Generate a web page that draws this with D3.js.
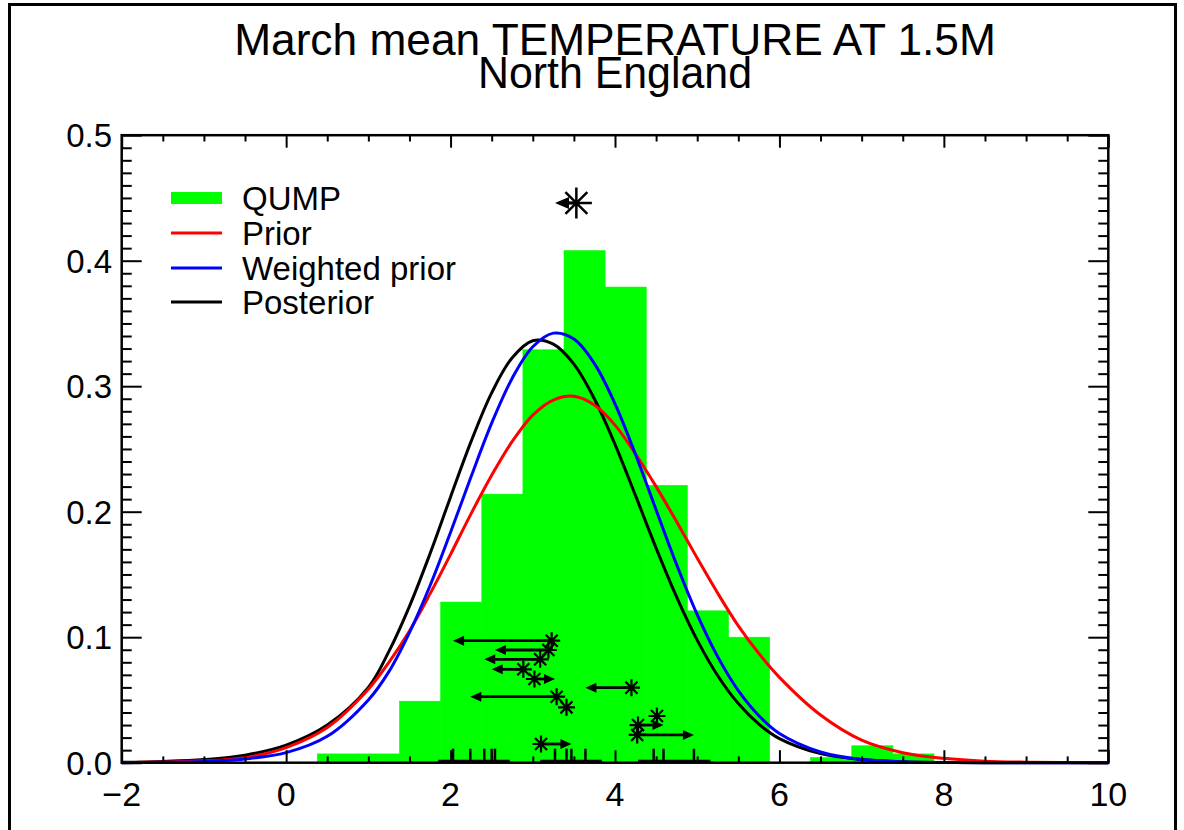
<!DOCTYPE html>
<html>
<head>
<meta charset="utf-8">
<script src="https://cdn.jsdelivr.net/npm/d3@7"></script>
<style>
  body { margin: 0; background: #fff; }
  text { font-family: "Liberation Sans", Arial, Helvetica, sans-serif; fill: #000; }
</style>
</head>
<body>
<script>
// titulo
const titleLines = ["March mean TEMPERATURE AT 1.5M", "North England"];

// histograma QUMP (bordes de clase y densidad)
const binEdges = [0.38, 0.88, 1.38, 1.88, 2.38, 2.88, 3.38, 3.88, 4.38, 4.88, 5.38, 5.88, 6.38, 6.88, 7.38, 7.88];
const qumpDensity = [0.007, 0.007, 0.049, 0.128, 0.214, 0.329, 0.408, 0.379, 0.221, 0.121, 0.100, 0, 0.004, 0.0135, 0.007];

// curvas
const curveX = [-2, -1.5, -1, -0.5, 0, 0.5,
  1, 1.25, 1.5, 1.75, 2, 2.25, 2.5, 2.75, 3, 3.25, 3.5, 3.75, 4, 4.25, 4.5, 4.75, 5, 5.25, 5.5, 5.75, 6,
  6.5, 7, 7.5, 8, 8.5, 9, 10];
const prior = [0, 0.0005, 0.0015, 0.004, 0.012, 0.028,
  0.0585, 0.080, 0.105, 0.1345, 0.166, 0.1985, 0.229, 0.256, 0.277, 0.289, 0.292, 0.285, 0.269, 0.246, 0.220, 0.192, 0.163, 0.135, 0.109, 0.087, 0.068,
  0.038, 0.018, 0.008, 0.0035, 0.0012, 0.0004, 0];
const weightedPrior = [0, 0.0003, 0.001, 0.003, 0.008, 0.021,
  0.050, 0.0726, 0.1037, 0.141, 0.1836, 0.228, 0.2706, 0.3064, 0.3314, 0.3423, 0.3376, 0.318, 0.286, 0.2456, 0.2014, 0.1577, 0.118, 0.0843, 0.0574, 0.0374, 0.0232,
  0.0085, 0.0025, 0.0008, 0.0002, 0, 0, 0];
const posterior = [0.0003, 0.001, 0.0025, 0.006, 0.014, 0.030,
  0.060, 0.0887, 0.1246, 0.1665, 0.2118, 0.256, 0.2947, 0.3227, 0.3362, 0.3335, 0.3176, 0.2898, 0.2537, 0.2128, 0.171, 0.132, 0.0977, 0.0693, 0.0471, 0.0307, 0.0192,
  0.0072, 0.0025, 0.0008, 0.0002, 0, 0, 0];

// asteriscos con flechas (valor del modelo -> valor corregido)
const starX   = [3.23, 3.19, 3.09, 2.885, 3.02, 4.20, 3.29, 3.41, 4.51, 4.28, 4.27, 3.10];
const arrowTo = [2.03, 2.54, 2.41, 2.50, 3.27, 3.64, 2.24, 3.41, 4.47, 4.59, 4.96, 3.47];
const starY   = [0.0972, 0.0898, 0.0824, 0.0744, 0.0667, 0.0598, 0.0526, 0.0441, 0.0372, 0.030, 0.0221, 0.0149];

// observacion (asterisco grande arriba)
const obsX = [3.53];
const obsTo = [3.27];
const obsY = [0.446];

// segmentos negros sobre la base
const spanStart = [1.85, 3.09, 4.28];
const spanEnd   = [2.72, 3.84, 5.16];

const xTickValues = [-2, 0, 2, 4, 6, 8, 10];
const yTickValues = [0, 0.1, 0.2, 0.3, 0.4, 0.5];
const yTickLabels = ["0.0", "0.1", "0.2", "0.3", "0.4", "0.5"];

const legendNames = ["QUMP", "Prior", "Weighted prior", "Posterior"];
const legendColors = ["#00ff00", "#ff0000", "#0000ff", "#000000"];

const width = 1184, height = 830;
const plotLeft = 121.7, plotRight = 1108.3, plotTop = 135.2, plotBottom = 762.7;

const svg = d3.select("body").append("svg")
  .attr("width", width)
  .attr("height", height);

svg.append("rect").attr("width", width).attr("height", height).attr("fill", "#fff");

// marco exterior
svg.append("rect")
  .attr("x", 9.5).attr("y", 4.5)
  .attr("width", 1166).attr("height", 860)
  .attr("fill", "none").attr("stroke", "#000").attr("stroke-width", 3);

const x = d3.scaleLinear().domain([-2, 10]).range([plotLeft, plotRight]);
const y = d3.scaleLinear().domain([0, 0.5]).range([plotBottom, plotTop]);

// ajustar ancho del texto
function stretchTo(sel, targetWidth) {
  sel.each(function () {
    const w = this.getComputedTextLength();
    const g = d3.select(this.parentNode);
    const t = g.attr("transform") || "";
    g.attr("transform", t + ` scale(${targetWidth / w},1)`);
  });
}

// titulo
const titleBase = [55, 88];
const titleWidth = [762, 274];
titleLines.forEach((s, i) => {
  const g = svg.append("g").attr("transform", `translate(${(plotLeft + plotRight) / 2},${titleBase[i]})`);
  const t = g.append("text").attr("text-anchor", "middle").attr("font-size", 45).text(s);
  stretchTo(t, titleWidth[i]);
});

// histograma
const bins = qumpDensity.map((v, i) => ({ x0: binEdges[i], x1: binEdges[i + 1], v }));
svg.selectAll(".bar")
  .data(bins.filter(d => d.v > 0))
  .enter()
  .append("rect")
  .attr("class", "bar")
  .attr("x", d => x(d.x0))
  .attr("y", d => y(d.v))
  .attr("width", d => x(d.x1) - x(d.x0))
  .attr("height", d => y(0) - y(d.v))
  .attr("fill", "#00ff00")
  .attr("stroke", "#00ff00")
  .attr("stroke-width", 0.6);

// curvas
const line = d3.line()
  .x(d => x(d[0]))
  .y(d => Math.min(y(d[1]), plotBottom))
  .curve(d3.curveCatmullRom.alpha(0.5));

[[posterior, "#000000"], [prior, "#ff0000"], [weightedPrior, "#0000ff"]].forEach(([vals, col]) => {
  svg.append("path")
    .datum(curveX.map((cx, i) => [cx, vals[i]]))
    .attr("d", line)
    .attr("fill", "none")
    .attr("stroke", col)
    .attr("stroke-width", 3);
});

// segmentos en la base
svg.selectAll(".span")
  .data(spanStart.map((s, i) => [s, spanEnd[i]]))
  .enter()
  .append("line")
  .attr("x1", d => x(d[0])).attr("x2", d => x(d[1]))
  .attr("y1", y(0) - 1.5).attr("y2", y(0) - 1.5)
  .attr("stroke", "#000").attr("stroke-width", 3);

// rug
svg.selectAll(".rug")
  .data(arrowTo)
  .enter()
  .append("line")
  .attr("x1", d => x(d)).attr("x2", d => x(d))
  .attr("y1", y(0)).attr("y2", y(0) - 14)
  .attr("stroke", "#000").attr("stroke-width", 2.5);

function asterisk(r) {
  const a = r * Math.SQRT1_2;
  return `M${-r},0L${r},0M0,${-r}L0,${r}M${-a},${-a}L${a},${a}M${-a},${a}L${a},${-a}`;
}

function arrow(x0, x1, yy, headLen, headHalf, sw) {
  const dir = Math.sign(x1 - x0);
  if (Math.abs(x1 - x0) < headLen * 0.8) return;
  svg.append("line")
    .attr("x1", x0).attr("x2", x1 - dir * headLen * 0.6)
    .attr("y1", yy).attr("y2", yy)
    .attr("stroke", "#000").attr("stroke-width", sw);
  svg.append("path")
    .attr("d", `M${x1},${yy}L${x1 - dir * headLen},${yy - headHalf}L${x1 - dir * headLen},${yy + headHalf}Z`)
    .attr("fill", "#000");
}

// flechas y asteriscos
starX.forEach((sx, i) => {
  arrow(x(sx), x(arrowTo[i]), y(starY[i]), 11, 5, 2.8);
});
svg.selectAll(".star")
  .data(starX.map((sx, i) => [sx, starY[i]]))
  .enter()
  .append("path")
  .attr("transform", d => `translate(${x(d[0])},${y(d[1])})`)
  .attr("d", asterisk(8.5))
  .attr("fill", "none")
  .attr("stroke", "#000")
  .attr("stroke-width", 2.2);

// observacion
obsX.forEach((ox, i) => {
  arrow(x(ox), x(obsTo[i]), y(obsY[i]), 14, 6, 3);
  svg.append("path")
    .attr("transform", `translate(${x(ox)},${y(obsY[i])})`)
    .attr("d", asterisk(15.5))
    .attr("fill", "none")
    .attr("stroke", "#000")
    .attr("stroke-width", 2.5);
});

// ejes: marcas mayores y menores hacia dentro
function tickSet(axisFn, scale, values, size, translate) {
  const g = svg.append("g")
    .attr("transform", translate)
    .call(axisFn(scale).tickValues(values).tickSize(size).tickFormat(""));
  g.select(".domain").remove();
  g.selectAll("line").attr("stroke", "#000").attr("stroke-width", 2);
}

const xMinor = d3.range(-4, 21).filter(i => i % 4 !== 0).map(i => i / 2);
const yMinor = d3.range(0, 51).filter(i => i % 10 !== 0).map(i => i / 100);

tickSet(d3.axisBottom, x, xTickValues, -12.5, `translate(0,${plotBottom})`);
tickSet(d3.axisBottom, x, xMinor, -6.3, `translate(0,${plotBottom})`);
tickSet(d3.axisTop, x, xTickValues, -12.5, `translate(0,${plotTop})`);
tickSet(d3.axisTop, x, xMinor, -6.3, `translate(0,${plotTop})`);
tickSet(d3.axisLeft, y, yTickValues, -20, `translate(${plotLeft},0)`);
tickSet(d3.axisLeft, y, yMinor, -10, `translate(${plotLeft},0)`);
tickSet(d3.axisRight, y, yTickValues, -20, `translate(${plotRight},0)`);
tickSet(d3.axisRight, y, yMinor, -10, `translate(${plotRight},0)`);

svg.append("rect")
  .attr("x", plotLeft).attr("y", plotTop)
  .attr("width", plotRight - plotLeft).attr("height", plotBottom - plotTop)
  .attr("fill", "none").attr("stroke", "#000").attr("stroke-width", 2.5);

// etiquetas de ejes
xTickValues.forEach(v => {
  svg.append("text")
    .attr("x", x(v))
    .attr("y", 806)
    .attr("text-anchor", "middle")
    .attr("font-size", 34)
    .text(v < 0 ? "\u2212" + Math.abs(v) : String(v));
});
yTickValues.forEach((v, i) => {
  svg.append("text")
    .attr("x", 112)
    .attr("y", y(v) + 12)
    .attr("text-anchor", "end")
    .attr("font-size", 33)
    .text(yTickLabels[i]);
});

// leyenda
const legendY = [198, 233, 268, 302];
legendNames.forEach((name, i) => {
  svg.append("line")
    .attr("x1", 171).attr("x2", 222)
    .attr("y1", legendY[i]).attr("y2", legendY[i])
    .attr("stroke", legendColors[i])
    .attr("stroke-width", i === 0 ? 12 : 3);
  svg.append("text")
    .attr("x", 242)
    .attr("y", legendY[i] + 12)
    .attr("font-size", 33)
    .text(name);
});
</script>
</body>
</html>
